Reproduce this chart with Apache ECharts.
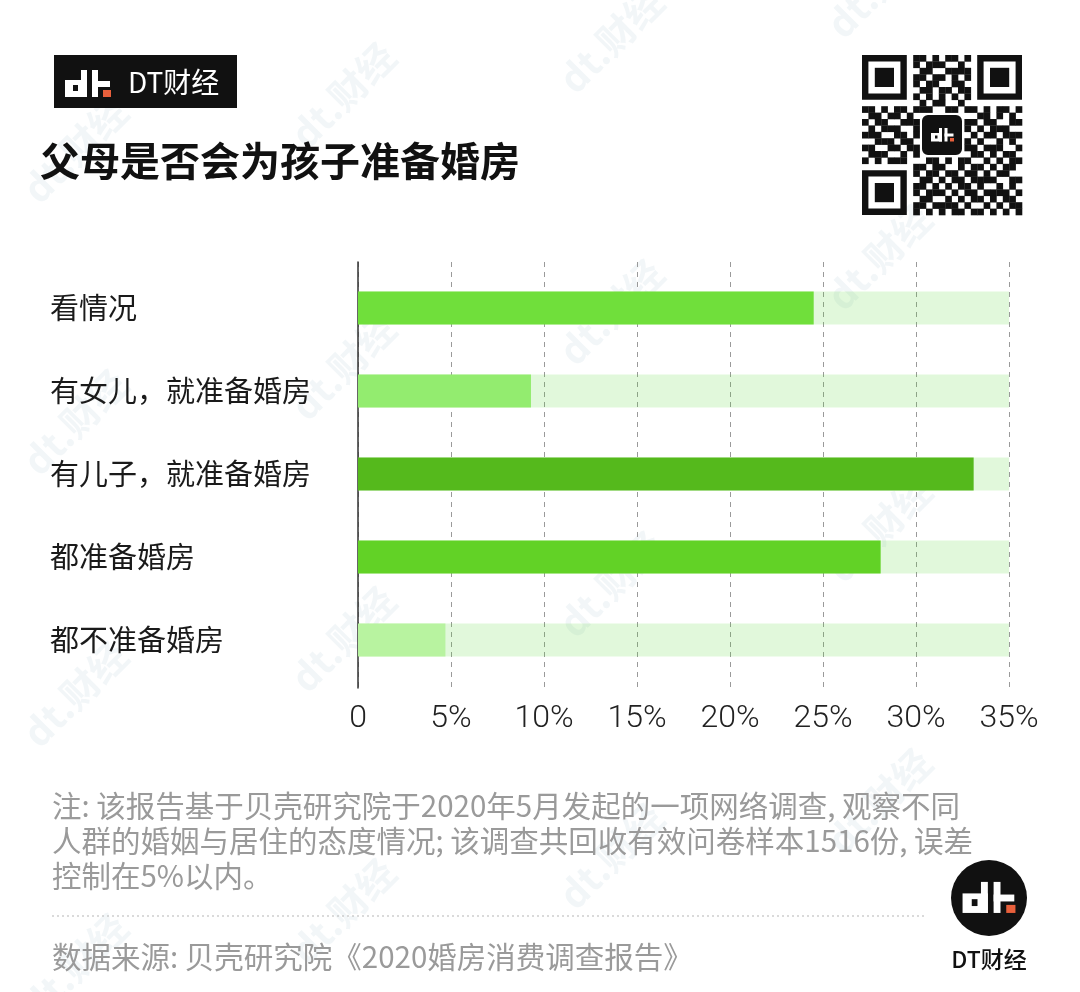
<!DOCTYPE html>
<html>
<head>
<meta charset="utf-8">
<script src="https://cdn.jsdelivr.net/npm/echarts@6/dist/echarts.min.js"></script>
<style>
html,body{margin:0;padding:0;background:#fff;}
#main{width:1080px;height:992px;}
</style>
</head>
<body>
<div id="main"></div>
<script>
// ---- data ----
const categories = ['看情况', '有女儿，就准备婚房', '有儿子，就准备婚房', '都准备婚房', '都不准备婚房'];
const values = [24.5, 9.3, 33.1, 28.1, 4.7];
const axisMax = 35;
const axisStep = 5;
const titleText = '父母是否会为孩子准备婚房';
const noteLines = [
  '注: 该报告基于贝壳研究院于2020年5月发起的一项网络调查, 观察不同',
  '人群的婚姻与居住的态度情况; 该调查共回收有效问卷样本1516份, 误差',
  '控制在5%以内。'
];
const sourceText = '数据来源: 贝壳研究院《2020婚房消费调查报告》';
const brandText = 'DT财经';

// ---- styles ----
const barColors = ['#70df3b', '#93ec6f', '#55b91c', '#62d226', '#b8f3a0'];
const trackColor = 'rgba(80,215,40,0.17)';
const CJK = '"Noto Sans CJK SC", "Noto Sans", sans-serif';
const LAT = 'Roboto, "Liberation Sans", sans-serif';

const chart = echarts.init(document.getElementById('main'), null, {renderer: 'canvas'});

// logo glyph "dt." drawn as rects, unit geometry
function logoGlyph(ox, oy, s, bg) {
  const parts = [
    [0, 10, 22, 17, '#fff'],
    [8, 15, 5, 6, bg],
    [16, 0, 6, 27, '#fff'],
    [27, 0, 6, 27, '#fff'],
    [27, 11, 18, 6, '#fff'],
    [38, 20, 8, 7, '#e8603c']
  ];
  return parts.map(p => ({
    type: 'rect', silent: true,
    shape: {x: ox + p[0] * s, y: oy + p[1] * s, width: p[2] * s, height: p[3] * s},
    style: {fill: p[4]}
  }));
}

const graphics = [];

// watermarks
const wmPos = [];
for (let r = -1; r < 5; r++) {
  for (let c = 0; c < 4; c++) {
    wmPos.push([75 + c * 268, 150 + r * 272 - c * 55]);
  }
}
wmPos.forEach(p => {
  graphics.push({
    type: 'text', silent: true, z: 0,
    x: p[0], y: p[1], rotation: Math.PI / 4,
    style: {text: 'dt.财经', x: 0, y: 0, textAlign: 'center', textVerticalAlign: 'middle',
      font: 'bold 38px ' + CJK, fill: 'rgba(150,178,195,0.12)'}
  });
});

// top-left logo box
graphics.push({type: 'rect', silent: true, shape: {x: 54, y: 55, width: 183, height: 53}, style: {fill: '#111'}});
logoGlyph(65, 70, 1, '#111').forEach(g => graphics.push(g));
graphics.push({type: 'text', silent: true, style: {text: brandText, x: 128, y: 82, textVerticalAlign: 'middle',
  font: '28px ' + CJK, fill: '#fff'}});

// title
graphics.push({type: 'text', silent: true, style: {text: titleText, x: 40, y: 161, textVerticalAlign: 'middle',
  font: 'bold 40px ' + CJK, fill: '#111'}});

// QR-like decoration
const qr = [
"0000000011010110100000000",
"0000000010111001000000000",
"0000000001100111100000000",
"0000000011011010100000000",
"0000000010110011000000000",
"0000000001101101100000000",
"0000000010101010100000000",
"0000000001011001000000000",
"1101011011100110110101101",
"0110110100111011001101010",
"1011001110100101110110011",
"0101110011011100101011100",
"1110011010110011010110111",
"0011101101001101101001010",
"1100110110111010110111001",
"0111001011001110011010110",
"1010111000110101100101011",
"0000000011011001011010110",
"0000000010110110110101100",
"0000000001101011011110011",
"0000000011010101101001010",
"0000000010111010110111101",
"0000000001100101011010110",
"0000000011011110100101011",
"0000000010101011011010101"
];
const qx = 862, qy = 55, m = 6.4;
qr.forEach((row, i) => {
  for (let j = 0; j < row.length; j++) {
    if (row[j] === '1' && !(i >= 9 && i <= 15 && j >= 9 && j <= 15)) {
      graphics.push({type: 'rect', silent: true, shape: {x: qx + j * m, y: qy + i * m, width: m + 0.3, height: m + 0.3}, style: {fill: '#111'}});
    }
  }
});
[[0, 0], [18, 0], [0, 18]].forEach(f => {
  const fx = qx + f[1] * m, fy = qy + f[0] * m;
  graphics.push({type: 'rect', silent: true, shape: {x: fx, y: fy, width: 7 * m, height: 7 * m}, style: {fill: '#111'}});
  graphics.push({type: 'rect', silent: true, shape: {x: fx + m, y: fy + m, width: 5 * m, height: 5 * m}, style: {fill: '#fff'}});
  graphics.push({type: 'rect', silent: true, shape: {x: fx + 2 * m, y: fy + 2 * m, width: 3 * m, height: 3 * m}, style: {fill: '#111'}});
});
graphics.push({type: 'rect', silent: true, shape: {x: 921, y: 114, width: 42, height: 42, r: 7}, style: {fill: '#111', stroke: '#fff', lineWidth: 2}});
logoGlyph(931, 128, 0.5, '#111').forEach(g => graphics.push(g));

// notes
noteLines.forEach((t, i) => {
  graphics.push({type: 'text', silent: true, style: {text: t, x: 52, y: 806 + i * 35, textVerticalAlign: 'middle',
    font: '29.5px ' + CJK, fill: '#9a9a9a'}});
});
graphics.push({type: 'line', silent: true, shape: {x1: 52, y1: 916, x2: 926, y2: 916},
  style: {stroke: '#b5b5b5', lineWidth: 1.2, lineDash: [2, 3]}});
graphics.push({type: 'text', silent: true, style: {text: sourceText, x: 52, y: 957, textVerticalAlign: 'middle',
  font: '29.5px ' + CJK, fill: '#9a9a9a'}});

// bottom-right logo
const bcx = 989, bcy = 898;
graphics.push({type: 'circle', silent: true, shape: {cx: bcx, cy: bcy, r: 38}, style: {fill: '#111'}});
logoGlyph(bcx - 23 * 1.15, bcy - 14 * 1.15, 1.15, '#111').forEach(g => graphics.push(g));
graphics.push({type: 'text', silent: true, style: {text: brandText, x: bcx, y: 959, textAlign: 'center', textVerticalAlign: 'middle',
  font: '500 23px ' + CJK, fill: '#111'}});

const option = {
  backgroundColor: '#fff',
  animation: false,
  grid: [
    {left: 358, width: 651, top: 262, height: 426},
    {left: 358, width: 651, top: 266.5, height: 415}
  ],
  xAxis: [
    {gridIndex: 0, type: 'value', min: 0, max: axisMax, interval: axisStep,
      axisLine: {show: false}, axisTick: {show: false},
      splitLine: {show: true, lineStyle: {color: '#9a9a9a', type: [5, 5], width: 1}},
      axisLabel: {margin: 15, fontSize: 32, fontWeight: 300, color: '#222', fontFamily: LAT,
        formatter: v => v === 0 ? '0' : v + '%'}},
    {gridIndex: 1, type: 'value', min: 0, max: axisMax, interval: axisStep, show: false}
  ],
  yAxis: [
    {gridIndex: 0, type: 'category', data: categories, inverse: true,
      axisLine: {show: true, lineStyle: {color: '#333', width: 1.5}}, axisTick: {show: false},
      axisLabel: {show: false}, splitLine: {show: false}},
    {gridIndex: 1, type: 'category', data: categories, inverse: true,
      axisLine: {show: false}, axisTick: {show: false},
      axisLabel: {margin: 308, align: 'left', fontSize: 29, color: '#1a1a1a', fontFamily: CJK}}
  ],
  graphic: graphics,
  series: [
    {type: 'bar', xAxisIndex: 1, yAxisIndex: 1, barWidth: 33, silent: true,
      data: categories.map(() => axisMax), itemStyle: {color: trackColor}, z: 2},
    {type: 'bar', xAxisIndex: 1, yAxisIndex: 1, barWidth: 33, barGap: '-100%',
      data: values.map((v, i) => ({value: v, itemStyle: {color: barColors[i]}})), z: 3}
  ]
};
chart.setOption(option);
</script>
</body>
</html>
